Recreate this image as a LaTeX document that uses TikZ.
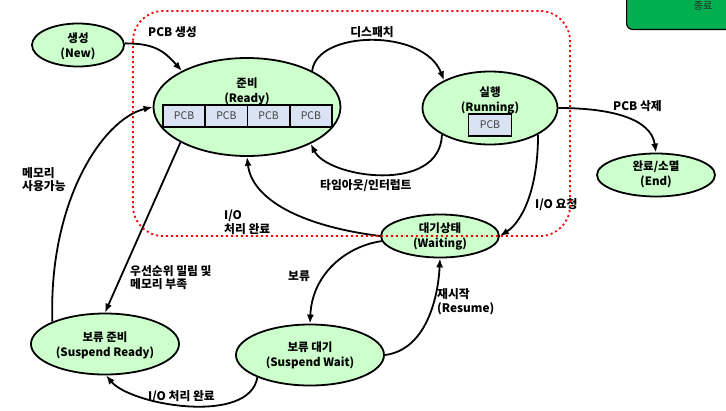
\documentclass[tikz,border=0pt]{standalone}
\usepackage{fontspec}
\setmainfont{Noto Sans CJK KR}
\usetikzlibrary{shapes.geometric,arrows.meta}
\definecolor{stategreen}{RGB}{204,255,204}
\definecolor{pcbfill}{RGB}{218,227,243}
\definecolor{endgreen}{RGB}{0,176,80}
\tikzset{
  st/.style={ellipse, draw=black, line width=1.8pt, fill=stategreen, inner sep=0pt},
  stxt/.style={align=center, font=\fontsize{11.5}{15}\selectfont\bfseries},
  lbl/.style={align=left, font=\fontsize{11.8}{13.8}\selectfont\bfseries, inner sep=0pt},
  pcb/.style={draw=black, line width=1.6pt, fill=pcbfill, minimum width=42.25pt, minimum height=22pt, inner sep=0pt, font=\fontsize{10.5}{12}\selectfont, text=black!75},
  conn/.style={line width=1.8pt, -{Latex[length=9pt,width=7pt]}},
  zone/.style={draw=red, line width=1.8pt, dash pattern=on 2pt off 3pt, rounded corners=30pt},
}
\begin{document}
\begin{tikzpicture}[x=1pt,y=-1pt]
\useasboundingbox (0,0) rectangle (726,410);
\clip (0,0) rectangle (726,410);
% top-right green box
\node[fill=endgreen, draw=black, line width=1.2pt, rounded corners=6pt, minimum width=140pt, minimum height=60pt, anchor=south west] (endbox) at (626,30) {};
\node[font=\fontsize{10}{12}\selectfont, text=black!85, inner sep=0pt] (endtxt) at (703,6) {종료};

% states
\node[st, minimum width=92pt, minimum height=43pt] (new) at (78,45) {};
\node[st, minimum width=187pt, minimum height=98pt] (ready) at (247,107) {};
\node[st, minimum width=135pt, minimum height=73pt] (run) at (490,108) {};
\node[st, minimum width=118pt, minimum height=43pt] (fin) at (656,175) {};
\node[st, minimum width=118pt, minimum height=43pt] (wait) at (440,236) {};
\node[st, minimum width=148pt, minimum height=61pt] (sready) at (105,344) {};
\node[st, minimum width=148pt, minimum height=61pt] (swait) at (310,355) {};

\node[stxt] (tnew) at (78,46) {생성\\(New)};
\node[stxt] (tready) at (247,91.5) {준비\\(Ready)};
\node[stxt] (trun) at (490,100.5) {실행\\(Running)};
\node[stxt] (tfin) at (656,174.5) {완료/소멸\\(End)};
\node[stxt] (twait) at (440,237) {대기상태\\(Waiting)};
\node[stxt] (tsready) at (105,345) {보류 준비\\(Suspend Ready)};
\node[stxt] (tswait) at (310,355.5) {보류 대기\\(Suspend Wait)};

\foreach \i/\x in {1/184.1,2/226.4,3/268.6,4/310.9}
  \node[pcb] (pcb\i) at (\x,116) {PCB};
\node[pcb, minimum width=43pt] (pcbrun) at (490,125) {PCB};

% connectors
\draw[conn] (new.2) .. controls +(30,0) and +(-18,-20) .. (ready.151);
\draw[conn] (ready.29) .. controls +(5,-41) and +(-20,-52) .. (run.149);
\draw[conn] (run.209) .. controls +(-2,60) and +(17,34) .. (ready.330);
\draw[conn] (run.east) .. controls +(50,0) and +(-5,-35) .. (fin.north);
\draw[conn] (run.331) .. controls +(0,55) and +(22,-14) .. (wait.east);
\draw[conn] (wait.west) .. controls +(-80,-10) and +(5,42) .. (ready.south);
\draw[conn] (ready.208) -- (sready.north);
\draw[conn] (sready.157) .. controls +(-4,-120) and +(-50,12) .. (ready.west);
\draw[conn] (wait.185) .. controls +(-35,5) and +(2,-50) .. (swait.north);
\draw[conn] (swait.east) .. controls +(40,-5) and +(-2,42) .. (wait.south);
\draw[conn] (swait.203.5) .. controls +(-8,48) and +(25,30) .. (sready.-88);

% labels
\node[lbl, anchor=west] (lnew) at (148,32) {PCB 생성};
\node[lbl] (ldisp) at (372,32) {디스패치};
\node[lbl, anchor=west] (ltime) at (320,186) {타임아웃/인터럽트};
\node[lbl, anchor=west] (ldel) at (613,106) {PCB 삭제};
\node[lbl, anchor=west] (lioreq) at (535,205) {I/O 요청};
\node[lbl, anchor=west] (liodone) at (224,222.5) {I/O\\처리 완료};
\node[lbl, anchor=west] (lprio) at (130,277.5) {우선순위 밀림 및\\메모리 부족};
\node[lbl, anchor=west] (lmem) at (22,179.5) {메모리\\사용가능};
\node[lbl, anchor=west] (lhold) at (288,276) {보류};
\node[lbl, anchor=west] (lres) at (437,301.5) {재시작\\(Resume)};
\node[lbl, anchor=west] (lsdone) at (148,397) {I/O 처리 완료};

% red dotted zone
\draw[zone] (133,11) rectangle (570,236);
\end{tikzpicture}
\end{document}
